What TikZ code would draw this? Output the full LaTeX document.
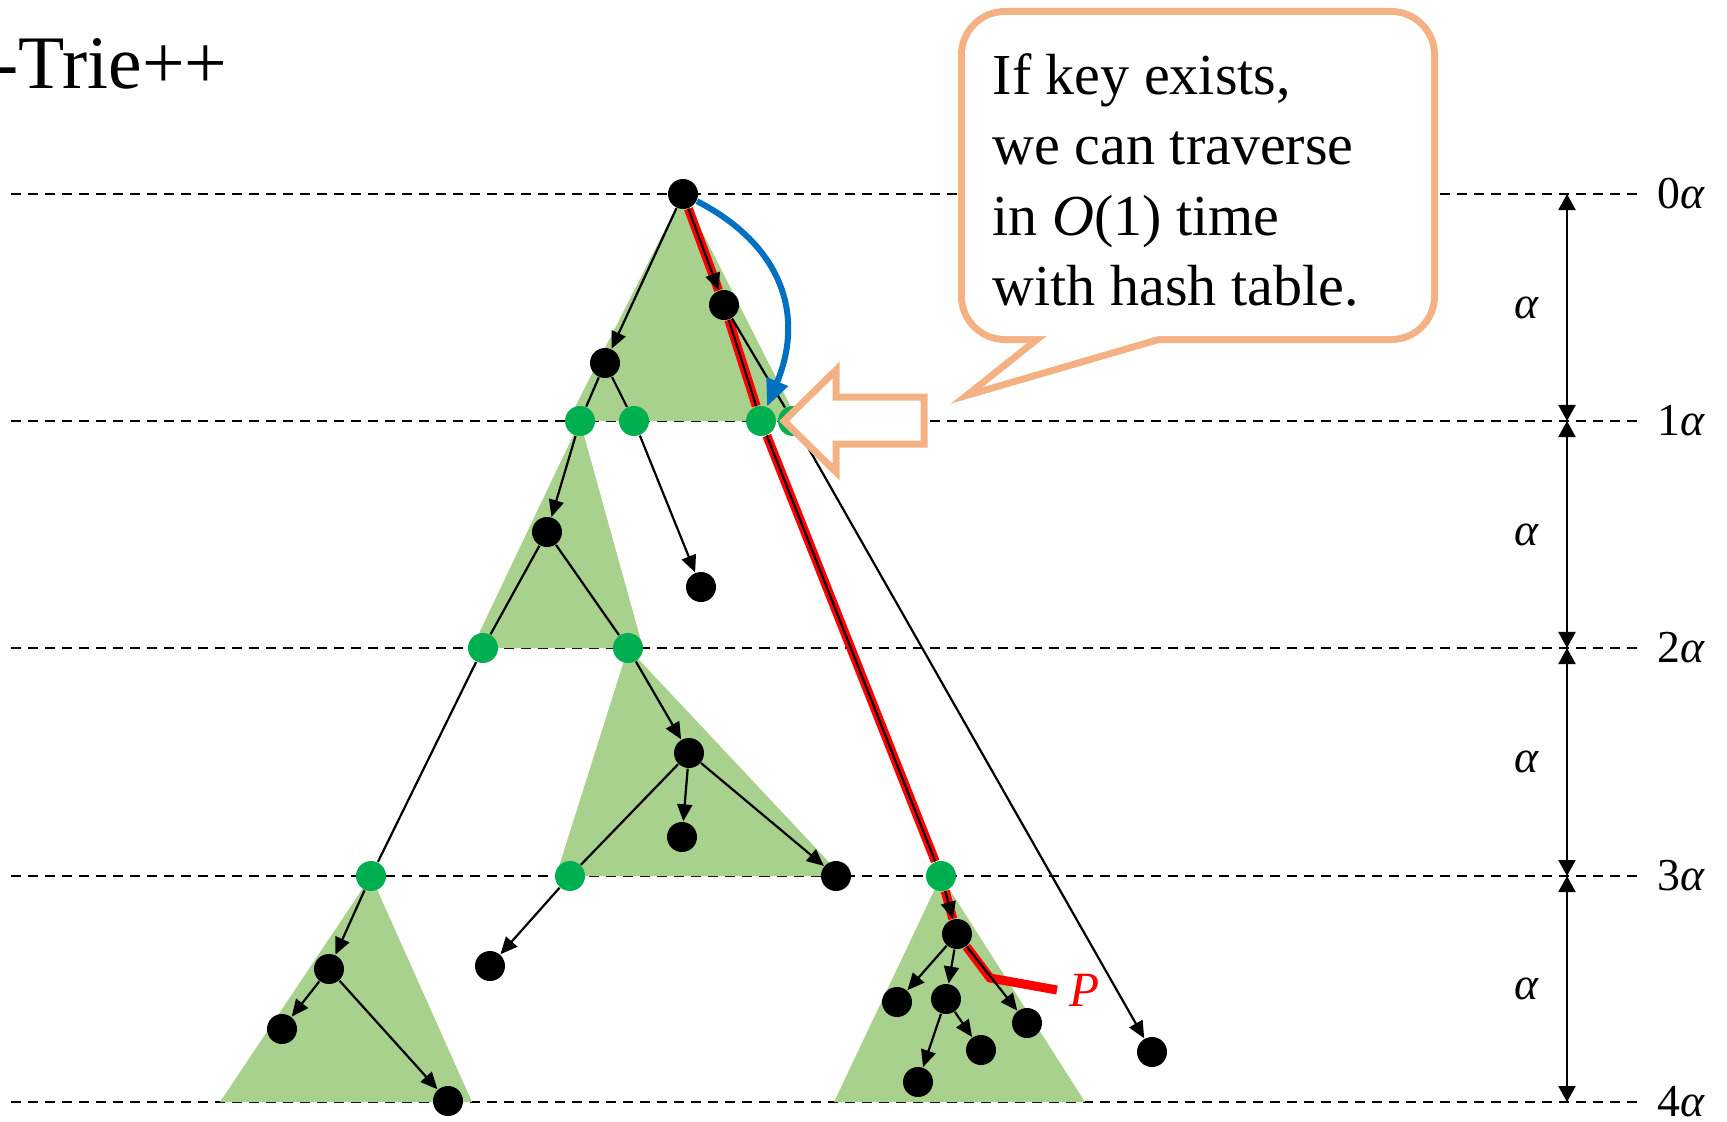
\documentclass[tikz,border=0pt]{standalone}
\usepackage{fontspec}
\setmainfont{Liberation Serif}
\usetikzlibrary{arrows.meta,positioning}
\definecolor{hashgreen}{HTML}{00B050}
\definecolor{subtriegreen}{HTML}{A9D18E}
\definecolor{calloutorange}{HTML}{F4B183}
\definecolor{hashblue}{HTML}{0070C0}
\begin{document}
\begin{tikzpicture}[
    x=0.01cm, y=-0.01cm,
    trienode/.style={circle, fill=black, minimum size=0.3cm, inner sep=0pt},
    hashnode/.style={circle, fill=hashgreen, minimum size=0.3cm, inner sep=0pt},
    subtrie/.style={fill=subtriegreen},
    trieedge/.style={->, >={Triangle[length=0.17cm,width=0.15cm]}, line width=0.022cm},
    keypath/.style={draw=red, line width=0.09cm},
    hasharc/.style={->, >={Triangle[length=0.27cm,width=0.22cm]}, draw=hashblue, line width=0.06cm},
    levelline/.style={dash pattern=on 0.1cm off 0.07cm, line width=0.024cm},
    dimarrow/.style={<->, >={Triangle[length=0.16cm,width=0.17cm]}, line width=0.022cm},
    levellabel/.style={inner sep=0pt, font=\fontsize{13}{15}\selectfont},
    blockarrow/.style={draw=calloutorange, fill=white, line width=0.07cm, line join=miter},
    calloutline/.style={draw=calloutorange, line width=0.14cm, line join=miter},
    callouttext/.style={inner sep=0pt, align=left, font=\fontsize{16.5}{20}\selectfont},
    plabel/.style={inner sep=0pt, text=red, font=\fontsize{14}{16}\selectfont\itshape},
    titletext/.style={inner sep=0pt, font=\fontsize{21.5}{25}\selectfont}
  ]
    \useasboundingbox (0,0) rectangle (1727,1121);
    \clip (0,0) rectangle (1727,1121);

    % levels and spans
    \foreach \lv/\y in {0/194,1/421,2/648,3/876,4/1102} {
      \coordinate (lvlL\lv) at (11,\y);
      \coordinate (lvlR\lv) at (1637,\y);
      \coordinate (dim\lv) at (1567,\y);
      \draw[levelline] (lvlL\lv) -- (lvlR\lv);
      \node[levellabel, anchor=base west] (lvl\lv) at (1657,\y+14) {\lv{\itshape α}};
    }
    \foreach \lv/\nx in {0/1,1/2,2/3,3/4} {
      \draw[dimarrow] (dim\lv) -- (dim\nx) node[midway, left=0.27cm, levellabel] (span\lv) {\itshape α};
    }

    % sub-tries
    \foreach \ax/\ay/\lx/\rx/\by in {683/194/568/798/421, 580/421/472/643/648, 628/648/556/842/876, 371/876/220/472/1102, 941/876/834/1085/1102} {
      \fill[subtrie] (\ax,\ay) -- (\lx,\by) -- (\rx,\by) -- cycle;
    }

    % nodes
    \foreach \n/\x/\y in {R/683/194, A/605/363, B/724/305, C/547/532, D/701/587, E/689/753, F/682/837, H/836/876, I/490/966, J/329/969, K/282/1029, L/448/1101, M/957/934, N/897/1002, O/946/999, Q/1027/1023, S/981/1050, T/918/1082, U/1152/1052} {
      \node[trienode] (\n) at (\x,\y) {};
    }
    \foreach \n/\x/\y in {G1/580/421, G2/634/421, G3/761/421, G4/793/421, G5/483/648, G6/628/648, G7/371/876, G8/570/876, G9/941/876} {
      \node[hashnode] (\n) at (\x,\y) {};
    }

    % search path P
    \coordinate (bend) at (990,978);
    \coordinate (ptip) at (1057,990);
    \draw[keypath] (R) -- (B) -- (G3) -- (G9) -- (M) -- (bend) -- (ptip);
    \node[plabel, right=0.12cm of ptip] (ptext) {P};

    % edges
    \foreach \a/\b in {R/A, R/B, E/F, E/H, J/K, J/L, M/N, M/O, M/Q, O/T, O/S} {
      \draw[trieedge] (\a) -- (\b);
    }
    \draw[trieedge] (A) -- (G1) -- (C);
    \draw[trieedge] (A) -- (G2) -- (D);
    \draw[trieedge] (B) -- (G3) -- (G9) -- (M);
    \draw[trieedge] (B) -- (G4) -- (U);
    \draw[trieedge] (C) -- (G5) -- (G7) -- (J);
    \draw[trieedge] (C) -- (G6) -- (E);
    \draw[trieedge] (E) -- (G8) -- (I);

    % hash jump
    \draw[hasharc] (R) .. controls (782,245) and (805,315) .. (G3);

    % block arrow
    \draw[blockarrow] (784,421) -- (836,370) -- (836,397) -- (924,397) -- (924,444) -- (836,444) -- (836,472) -- cycle;

    % callout
    \draw[calloutline, rounded corners=0.4cm] (965,15) rectangle (1431,336);
    \draw[calloutline] (1047,336) -- (983,387) -- (1158,336) -- cycle;
    \fill[white, rounded corners=0.4cm] (965,15) rectangle (1431,336);
    \fill[white] (1047,336) -- (983,387) -- (1158,336) -- cycle;
    \node[callouttext, anchor=north west] (note) at (992,53) {If key exists,\\we can traverse\\in \textit{O}(1) time\\with hash table.};

    \node[titletext, anchor=base west] (title) at (-7,88) {-Trie++};
\end{tikzpicture}
\end{document}
